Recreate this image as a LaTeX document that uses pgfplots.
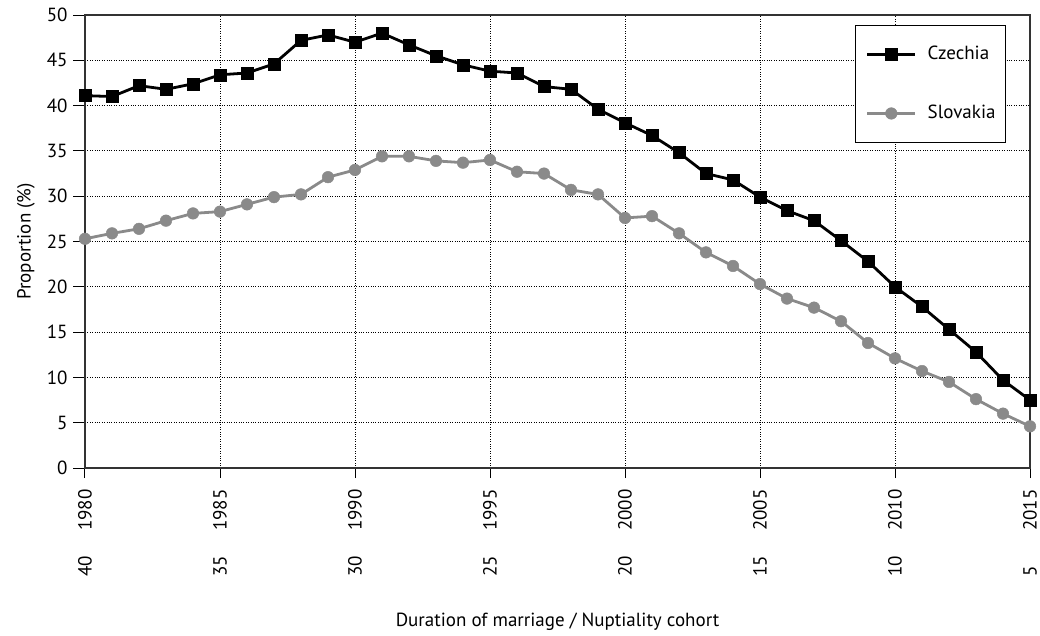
\documentclass[border=0pt]{standalone}
\usepackage{graphicx}
\usepackage{pgfplots}
\pgfplotsset{compat=1.18}
\usepackage{fontspec}
\setmainfont{PT Sans}
\definecolor{skgray}{HTML}{8A8A8A}
\newcommand{\lab}[2]{\rotatebox{90}{\makebox[19pt][l]{#1}\hspace{27pt}#2}}
\begin{document}
\begin{tikzpicture}[x=1pt,y=1pt]
\useasboundingbox (0,0) rectangle (1040,635);
\begin{axis}[
  at={(85pt,167pt)}, anchor=south west,
  scale only axis, width=945pt, height=453pt,
  xmin=1980, xmax=2015, ymin=0, ymax=50,
  xtick={1980,1985,...,2015},
  xticklabels={
    {\lab{40}{1980}},
    {\lab{35}{1985}},
    {\lab{30}{1990}},
    {\lab{25}{1995}},
    {\lab{20}{2000}},
    {\lab{15}{2005}},
    {\lab{10}{2010}},
    {\lab{5}{2015}}},
  ytick={0,5,...,50},
  /pgf/number format/assume math mode=true,
  tick align=outside,
  x tick style={black, line width=1pt, /pgfplots/major tick length=10pt},
  y tick style={black, line width=1pt, /pgfplots/major tick length=12pt},
  xtick pos=bottom, ytick pos=left,
  grid=major,
  major grid style={black, dotted, line width=0.9pt},
  axis line style={draw=black!80, line width=1.3pt},
  ticklabel style={font=\fontsize{19}{21}\selectfont},
  xticklabel style={anchor=north, inner sep=0pt, yshift=-17pt},
  yticklabel style={inner sep=0pt, xshift=-13pt},
  xlabel={Duration of marriage / Nuptiality cohort},
  ylabel={Proportion (\%)},
  label style={font=\fontsize{19}{21}\selectfont},
  xlabel style={at={(axis description cs:0.5,-0.34)}, anchor=center},
  ylabel style={at={(axis description cs:-0.0624,0.5)}, anchor=center, rotate=0},
  legend style={at={(axis description cs:0.9746,0.978)}, anchor=north east,
    draw=black, line width=1pt, fill=white,
    font=\fontsize{19}{21}\selectfont,
    nodes={inner sep=0pt, text height=14pt, text depth=4pt},
    row sep=41pt, column sep=11pt, inner xsep=10pt, inner ysep=20pt},
  legend cell align=left,
  legend image code/.code={\draw[mark repeat=2,mark phase=2] plot coordinates {(0pt,0pt) (24pt,0pt) (48pt,0pt)};},
]
\addplot[black, line width=2.8pt, mark=square*, mark size=6pt, mark options={solid, line width=0.5pt}] coordinates {
(1980,41.1)(1981,41.0)(1982,42.2)(1983,41.8)(1984,42.4)(1985,43.4)(1986,43.6)(1987,44.6)(1988,47.2)(1989,47.8)
(1990,47.0)(1991,48.0)(1992,46.7)(1993,45.5)(1994,44.5)(1995,43.8)(1996,43.6)(1997,42.1)(1998,41.8)(1999,39.6)
(2000,38.1)(2001,36.7)(2002,34.8)(2003,32.5)(2004,31.8)(2005,29.9)(2006,28.4)(2007,27.3)(2008,25.1)(2009,22.8)
(2010,20.0)(2011,17.8)(2012,15.3)(2013,12.8)(2014,9.7)(2015,7.5)};
\addlegendentry{Czechia}
\addplot[skgray, line width=2.8pt, mark=*, mark size=5.8pt, mark options={solid, line width=0.5pt}] coordinates {
(1980,25.3)(1981,25.9)(1982,26.4)(1983,27.3)(1984,28.1)(1985,28.3)(1986,29.1)(1987,29.9)(1988,30.2)(1989,32.1)
(1990,32.9)(1991,34.4)(1992,34.4)(1993,33.9)(1994,33.7)(1995,34.0)(1996,32.7)(1997,32.5)(1998,30.7)(1999,30.2)
(2000,27.6)(2001,27.8)(2002,25.9)(2003,23.8)(2004,22.3)(2005,20.3)(2006,18.7)(2007,17.7)(2008,16.2)(2009,13.8)
(2010,12.1)(2011,10.7)(2012,9.5)(2013,7.6)(2014,6.0)(2015,4.6)};
\addlegendentry{Slovakia}
\end{axis}
\end{tikzpicture}
\end{document}
